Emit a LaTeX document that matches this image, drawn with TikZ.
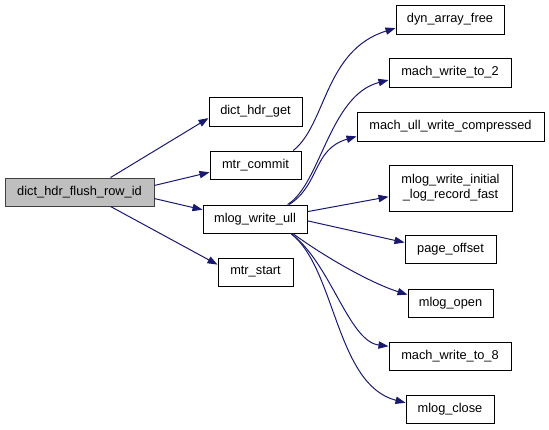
\documentclass[tikz,border=0pt]{standalone}
\usepackage{fontspec}
\setmainfont{Liberation Sans}
\usetikzlibrary{arrows.meta}
\definecolor{edgeblue}{HTML}{191970}
\definecolor{rootgray}{HTML}{BFBFBF}

\begin{document}
\begin{tikzpicture}[x=0.75pt, y=-0.75pt,
  fn/.style={draw=black, line width=0.75pt, inner sep=0pt, align=center,
    font=\fontsize{9.6}{11.5}\selectfont},
  call/.style={draw=edgeblue, line width=0.75pt,
    -{Triangle[length=7.5pt, width=5.5pt]}}]

  \useasboundingbox (0, 0) rectangle (549, 429);

  % caller
  \node[fn, fill=rootgray, draw=black!75, minimum width=111.75pt, minimum height=21pt] (flush) at (79.5, 192) {dict\_hdr\_flush\_row\_id};

  % first level
  \node[fn, minimum width=69.75pt, minimum height=21.75pt] (hdrget) at (255.5, 111.5) {dict\_hdr\_get};
  \node[fn, minimum width=68.25pt, minimum height=21pt] (commit) at (255.5, 165) {mtr\_commit};
  \node[fn, minimum width=78pt, minimum height=21pt] (writeull) at (255, 219) {mlog\_write\_ull};
  \node[fn, minimum width=56.25pt, minimum height=21pt] (start) at (255.5, 272) {mtr\_start};

  % second level
  \node[fn, minimum width=81pt, minimum height=21.75pt] (dynfree) at (450, 19.5) {dyn\_array\_free};
  \node[fn, minimum width=91.5pt, minimum height=21.75pt] (write2) at (450, 72.5) {mach\_write\_to\_2};
  \node[fn, minimum width=140.25pt, minimum height=21.75pt] (ullcomp) at (450.5, 126.5) {mach\_ull\_write\_compressed};
  \node[fn, minimum width=92.25pt, minimum height=34.5pt] (initial) at (450.5, 188) {mlog\_write\_initial\\\_log\_record\_fast};
  \node[fn, minimum width=68.25pt, minimum height=21pt] (pageoff) at (450.5, 249) {page\_offset};
  \node[fn, minimum width=63.75pt, minimum height=21pt] (open) at (450.5, 303) {mlog\_open};
  \node[fn, minimum width=91.5pt, minimum height=21pt] (write8) at (450, 356) {mach\_write\_to\_8};
  \node[fn, minimum width=66pt, minimum height=21pt] (close) at (450, 409) {mlog\_close};

  % calls from dict_hdr_flush_row_id
  \draw[call] (flush.25) -- (hdrget.188);
  \draw[call] (flush.5) -- (commit.189);
  \draw[call] (flush.-5) -- (writeull.170);
  \draw[call] (flush.-25) -- (start.169);

  % calls from mtr_commit
  \draw[call] (commit.21) .. controls +(33,-26) and +(-71,22) .. (dynfree.189);

  % calls from mlog_write_ull
  \draw[call] (writeull.24) .. controls +(33,-20) and +(-59,15) .. (write2.187);
  \draw[call] (writeull.23) .. controls +(31,-20) and +(-44,13) .. (ullcomp.186);
  \draw[call] (writeull.8) -- (initial.188);
  \draw[call] (writeull.-2) -- (pageoff.172);
  \draw[call] (writeull.-21) .. controls +(30,22) and +(-38,-12) .. (open.169);
  \draw[call] (writeull.-22) .. controls +(40,30) and +(-40,-5) .. (write8.171);
  \draw[call] (writeull.-22) .. controls +(45,35) and +(-70,-18) .. (close.172);

\end{tikzpicture}
\end{document}
